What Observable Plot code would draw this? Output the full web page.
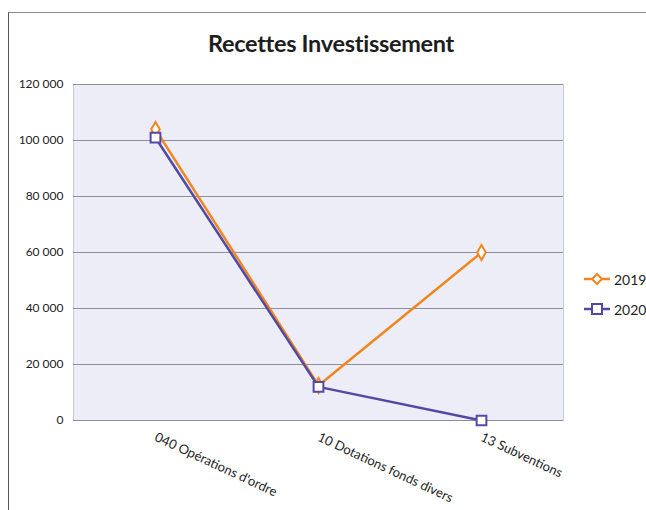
<!DOCTYPE html>
<html><head><meta charset="utf-8">
<script src="https://cdn.jsdelivr.net/npm/d3@7"></script>
<script src="https://cdn.jsdelivr.net/npm/@observablehq/plot@0.6"></script>
<style>
html,body{margin:0;padding:0;background:#fff;}
#wrap{position:relative;width:646px;height:510px;overflow:hidden;background:#fff;}
#frame{position:absolute;left:8px;top:12px;right:-2px;bottom:-2px;border-left:1.5px solid #555;border-top:1.5px solid #8a8aa0;}
#title{position:absolute;left:8px;width:646px;top:29px;text-align:center;font-family:Lato,sans-serif;font-weight:bold;font-size:23.5px;color:#1e1e1e;letter-spacing:-0.3px;}
#chart{position:absolute;left:0;top:0;}
#legend{position:absolute;left:583px;top:264px;font-family:Lato,sans-serif;font-size:14px;color:#1e1e1e;}
</style></head>
<body><div id="wrap"><div id="frame"></div><div id="chart"></div><div id="title">Recettes Investissement</div><div id="legend"></div></div>
<script>
const categories = ["040 Opérations d'ordre", "10 Dotations fonds divers", "13 Subventions"];
const series = ["2019", "2020"];
const values2019 = [104000, 12500, 60000];
const values2020 = [101000, 12000, 0];
const yTicks = [0, 20000, 40000, 60000, 80000, 100000, 120000];
const colors = ["#f0861e", "#5249a6"];
const symbols = ["diamond", "square"];

const rows = [];
categories.forEach((c, i) => {
  rows.push({cat: c, serie: "2019", value: values2019[i]});
  rows.push({cat: c, serie: "2020", value: values2020[i]});
});
const fmt = v => d3.format(",")(v).replace(/,/g, "\u00a0");

const plot = Plot.plot({
  width: 646, height: 510,
  marginLeft: 73, marginRight: 83, marginTop: 84, marginBottom: 90,
  style: {fontFamily: "Lato, sans-serif", fontSize: "12px", color: "#1e1e1e", background: "transparent"},
  x: {type: "point", domain: categories, padding: 0.5, label: null},
  y: {domain: [0, 120000], label: null},
  marks: [
    Plot.frame({fill: "#ededf7", stroke: "#c8c8d8"}),
    Plot.ruleY(yTicks, {stroke: "#8e8ea0", strokeWidth: 1}),
    Plot.axisY({ticks: yTicks, tickFormat: fmt, tickSize: 0, tickPadding: 10, fontSize: 12, label: null}),
    Plot.axisX({tickSize: 0, tickPadding: 16, tickRotate: 25, fontSize: 13, label: null}),
    ...series.map((s, k) => [
      Plot.line(rows.filter(d => d.serie === s), {x: "cat", y: "value", stroke: colors[k], strokeWidth: 2.5}),
      Plot.dot(rows.filter(d => d.serie === s), {x: "cat", y: "value", symbol: symbols[k], r: k ? 5.5 : 4.5, stroke: colors[k], strokeWidth: 2, fill: "white"})
    ]).flat()
  ]
});
document.getElementById("chart").appendChild(plot);

const leg = d3.select("#legend");
series.forEach((s, k) => {
  const row = leg.append("div").style("display","flex").style("align-items","center").style("height","30px");
  const svg = row.append("svg").attr("width", 28).attr("height", 14);
  svg.append("line").attr("x1",1).attr("x2",27).attr("y1",7).attr("y2",7).attr("stroke",colors[k]).attr("stroke-width",2.5);
  if (symbols[k] === "diamond") svg.append("path").attr("d","M14,2L19,7L14,12L9,7Z").attr("fill","white").attr("stroke",colors[k]).attr("stroke-width",2);
  else svg.append("rect").attr("x",9).attr("y",2).attr("width",10).attr("height",10).attr("fill","white").attr("stroke",colors[k]).attr("stroke-width",2);
  row.append("span").style("margin-left","3px").text(s);
});
</script></body></html>
